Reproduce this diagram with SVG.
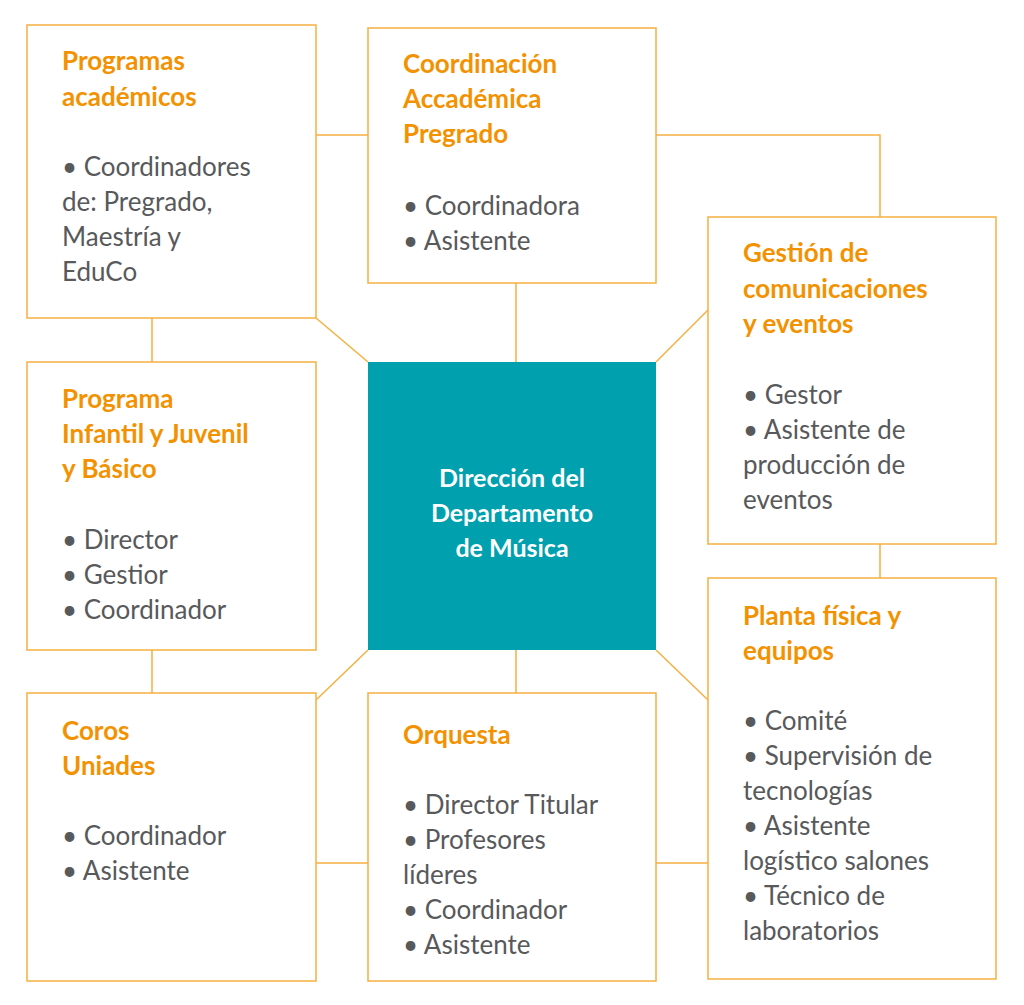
<svg xmlns="http://www.w3.org/2000/svg" width="1024" height="1005" viewBox="0 0 1024 1005">
<style>
.b{fill:#fff;stroke:#F5B041;stroke-width:1.5}
.c{stroke:#F5B041;stroke-width:1.5;fill:none}
.h{font-family:Lato,"Open Sans",sans-serif;font-weight:bold;font-size:26px;fill:#F39200}
.t{font-family:Lato,"Open Sans",sans-serif;font-size:26px;fill:#58595B}
.w{font-family:Lato,"Open Sans",sans-serif;font-weight:bold;font-size:25px;fill:#fff;text-anchor:middle}
</style>
<rect width="1024" height="1005" fill="#fff"/>
<g id="connectors" class="c">
<path d="M316 135H368M656 135H880V217M152 318V362M516 283V362M316 318L368 362M656 362L708 310M368 650L316 700M656 650L708 700M152 650V693M516 650V693M880 544V578M316 863H368M656 863H708"/>
</g>
<g id="n1"><rect class="b" x="27" y="25" width="289" height="293"/>
<text class="h" x="62" y="70">Programas</text><text class="h" x="62" y="106">académicos</text>
<text class="t" x="62" y="176">• Coordinadores</text><text class="t" x="62" y="211">de: Pregrado,</text><text class="t" x="62" y="246">Maestría y</text><text class="t" x="62" y="281">EduCo</text></g>
<g id="n2"><rect class="b" x="368" y="28" width="288" height="255"/>
<text class="h" x="403" y="73">Coordinación</text><text class="h" x="403" y="108">Accadémica</text><text class="h" x="403" y="143">Pregrado</text>
<text class="t" x="403" y="215">• Coordinadora</text><text class="t" x="403" y="250">• Asistente</text></g>
<g id="n3"><rect class="b" x="708" y="217" width="288" height="327"/>
<text class="h" x="743" y="262">Gestión de</text><text class="h" x="743" y="298">comunicaciones</text><text class="h" x="743" y="333">y eventos</text>
<text class="t" x="743" y="404">• Gestor</text><text class="t" x="743" y="439">• Asistente de</text><text class="t" x="743" y="474">producción de</text><text class="t" x="743" y="509">eventos</text></g>
<g id="n4"><rect class="b" x="27" y="362" width="289" height="288"/>
<text class="h" x="62" y="408">Programa</text><text class="h" x="62" y="443">Infantil y Juvenil</text><text class="h" x="62" y="478">y Básico</text>
<text class="t" x="62" y="549">• Director</text><text class="t" x="62" y="584">• Gestior</text><text class="t" x="62" y="619">• Coordinador</text></g>
<g id="center"><rect x="368" y="362" width="288" height="288" fill="#00A0AF"/>
<text class="w" x="512" y="487">Dirección del</text><text class="w" x="512" y="522">Departamento</text><text class="w" x="512" y="557">de Música</text></g>
<g id="n5"><rect class="b" x="27" y="693" width="289" height="288"/>
<text class="h" x="62" y="740">Coros</text><text class="h" x="62" y="775">Uniades</text>
<text class="t" x="62" y="845">• Coordinador</text><text class="t" x="62" y="880">• Asistente</text></g>
<g id="n6"><rect class="b" x="368" y="693" width="288" height="288"/>
<text class="h" x="403" y="744">Orquesta</text>
<text class="t" x="403" y="814">• Director Titular</text><text class="t" x="403" y="849">• Profesores</text><text class="t" x="403" y="884">líderes</text><text class="t" x="403" y="919">• Coordinador</text><text class="t" x="403" y="954">• Asistente</text></g>
<g id="n7"><rect class="b" x="708" y="578" width="288" height="401"/>
<text class="h" x="743" y="625">Planta física y</text><text class="h" x="743" y="660">equipos</text>
<text class="t" x="743" y="730">• Comité</text><text class="t" x="743" y="765">• Supervisión de</text><text class="t" x="743" y="800">tecnologías</text><text class="t" x="743" y="835">• Asistente</text><text class="t" x="743" y="870">logístico salones</text><text class="t" x="743" y="905">• Técnico de</text><text class="t" x="743" y="940">laboratorios</text></g>
</svg>
